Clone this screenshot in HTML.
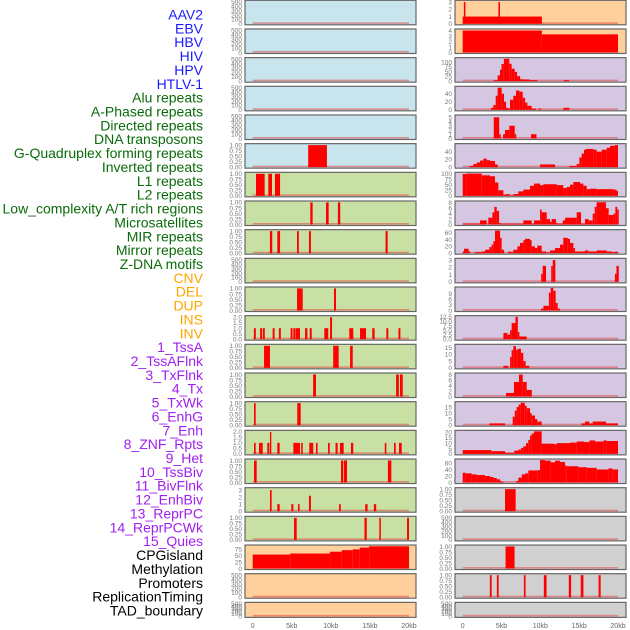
<!DOCTYPE html>
<html><head><meta charset="utf-8"><style>
html,body{margin:0;padding:0;background:#fff}
svg{display:block}
text{font-family:"Liberation Sans",sans-serif}
</style></head><body>
<svg id="chart" width="630" height="630" viewBox="0 0 630 630" xmlns="http://www.w3.org/2000/svg"></svg>
<script>
// ---- data ----
const trackLabels = ["AAV2","EBV","HBV","HIV","HPV","HTLV-1","Alu repeats","A-Phased repeats","Directed repeats","DNA transposons","G-Quadruplex forming repeats","Inverted repeats","L1 repeats","L2 repeats","Low_complexity A/T rich regions","Microsatellites","MIR repeats","Mirror repeats","Z-DNA motifs","CNV","DEL","DUP","INS","INV","1_TssA","2_TssAFlnk","3_TxFlnk","4_Tx","5_TxWk","6_EnhG","7_Enh","8_ZNF_Rpts","9_Het","10_TssBiv","11_BivFlnk","12_EnhBiv","13_ReprPC","14_ReprPCWk","15_Quies","CPGisland","Methylation","Promoters","ReplicationTiming","TAD_boundary"];
const labelGroups = ["virus","virus","virus","virus","virus","virus","rep","rep","rep","rep","rep","rep","rep","rep","rep","rep","rep","rep","rep","sv","sv","sv","sv","sv","cs","cs","cs","cs","cs","cs","cs","cs","cs","cs","cs","cs","cs","cs","cs","other","other","other","other","other"];
const xTickKb = [0,5,10,15,20];
const xTickLabels = ["0","5kb","10kb","15kb","20kb"];
const ticks500 = ["0","100","200","300","400","500"];
const ticks1 = ["0.00","0.25","0.50","0.75","1.00"];
const ticks2 = ["0.0","0.5","1.0","1.5","2.0"];
const ticks3 = ["0","1","2","3"];

// left column segments [startKb, endKb, value]
const L6 = [[7.1,9.5,1]];
const L7 = [[0.42,1.53,1],[2.0,2.47,1],[2.85,3.5,1]];
const L8 = [[7.37,7.67,1],[9.38,9.72,1],[10.9,11.2,1]];
const L9 = [[2.2,2.5,1],[3.15,3.5,1],[5.67,5.9,1],[7.2,7.45,1],[17.0,17.27,1]];
const L11 = [[5.67,6.4,1],[10.4,10.66,1]];
const L12 = [[0.15,0.4,1],[0.95,1.2,1],[1.3,1.55,1],[2.55,2.8,1],[3.35,3.6,1],[4.85,5.1,1],[5.2,5.45,1],[5.5,6.05,1],[6.7,7.0,1],[7.3,7.55,1],[9.16,9.67,1],[9.9,10.15,2],[12.36,12.87,1],[13.73,14.5,1],[15.3,15.6,1],[17.1,17.35,1],[18.65,18.9,1]];
const L13 = [[1.45,2.21,1],[10.3,11.0,1],[12.46,12.8,1]];
const L14 = [[7.73,8.1,1],[18.35,18.7,1],[18.85,19.2,1]];
const L15 = [[0.17,0.38,1],[5.7,6.14,1]];
const L16 = [[0.17,0.38,1],[0.81,1.28,1],[1.87,2.13,1],[2.21,2.38,2],[3.15,3.45,1],[5.2,6.05,1],[6.2,6.4,1],[7.24,7.75,1],[8.1,8.3,1],[9.64,9.86,1],[10.6,10.87,1],[11.16,11.64,1],[12.57,12.87,1],[16.9,17.1,1],[18.08,18.3,1],[18.72,19.07,1]];
const L17 = [[0.17,0.51,1],[11.3,11.59,1],[11.68,12.07,1],[17.3,17.74,1]];
const L18 = [[2.21,2.42,3],[3.15,3.45,1],[4.94,5.2,1],[5.8,6.0,1],[7.2,7.45,2.2],[11.05,11.27,1],[14.4,14.7,1],[15.5,15.8,1]];
const L19 = [[5.29,5.63,1],[14.3,14.6,1],[16.2,16.4,1],[19.75,20.0,1]];
const L20 = [[0,4.8,54],[4.8,9.9,58],[9.9,11.4,65],[11.4,12.8,71],[12.8,13.7,74],[13.7,14.9,81],[14.9,20,86]];

// right column segments
const R1 = [[0,10.2,1],[0.15,0.35,3],[4.6,4.8,3]];
const R2 = [[0,10.2,4],[10.2,20,3.3]];
const R3 = [[4.0,4.5,5],[4.5,4.8,30],[4.8,5.0,60],[5.0,5.3,90],[5.3,6.0,117],[6.0,6.3,91],[6.3,6.7,65],[6.7,7.0,48],[7.0,7.4,26],[7.4,7.8,10],[7.8,8.6,9],[8.6,9.6,5],[13.0,13.7,5]];
const R4 = [[3.65,3.95,5],[3.95,4.25,12],[4.25,4.5,35],[4.5,5.02,55],[5.02,5.32,40],[5.32,5.58,20],[5.58,5.88,5],[5.88,6.09,3],[6.09,6.52,25],[6.52,6.87,35],[6.87,7.3,48],[7.3,7.73,45],[7.73,8.03,30],[8.03,8.33,18],[8.33,8.88,10],[8.88,9.44,3],[9.75,10.1,3],[12.96,13.73,5]];
const R5 = [[4.0,4.7,5],[4.7,4.9,1],[5.2,5.45,1],[5.45,6.0,2],[6.0,6.7,3],[6.7,6.9,1],[8.8,9.5,1]];
const R6 = [[0.86,1.37,3],[1.37,1.8,8],[1.8,2.23,12],[2.23,2.66,17],[2.66,3.09,22],[3.09,3.52,18],[3.52,4.16,16],[4.16,4.5,7],[9.96,11.89,7],[13.73,14.68,3],[14.68,15.02,8],[15.02,15.32,25],[15.32,15.62,35],[15.62,15.88,45],[15.88,16.82,47],[16.82,17.25,45],[17.25,17.9,40],[17.9,18.54,45],[18.54,18.97,50],[18.97,19.61,55],[19.61,20,57]];
const R7 = [[0,0.52,98],[0.52,2.45,100],[2.45,3.52,92],[3.52,4.16,88],[4.16,4.59,60],[4.59,5.24,25],[5.24,5.58,5],[5.58,6.01,8],[6.01,6.52,2],[6.52,7.17,8],[7.17,7.81,20],[7.81,8.67,28],[8.67,9.18,45],[9.18,9.96,55],[9.96,10.39,48],[10.39,12.1,52],[12.1,12.96,48],[12.96,13.39,35],[13.39,13.82,40],[13.82,14.25,50],[14.25,15.11,62],[15.11,15.54,55],[15.54,15.97,45],[15.97,16.39,30],[16.39,17.25,32],[17.25,19.4,30],[19.4,19.8,28],[19.8,20,22]];
const R8 = [[0,2.23,0.3],[2.23,3.09,1.5],[3.3,3.82,2.5],[3.82,4.08,4.5],[4.08,4.38,6.5],[4.38,4.68,5],[4.68,4.94,0.5],[4.94,7.81,0.3],[7.81,8.88,1.5],[8.88,9.18,0.3],[9.18,9.96,1.5],[9.96,10.17,5.5],[10.17,10.82,4.5],[10.82,11.24,2],[11.24,11.46,1],[11.46,12.02,2],[12.02,12.23,0.5],[12.23,12.88,0.3],[12.88,13.18,1.5],[13.18,14.68,2.5],[14.68,15.24,4.5],[15.24,15.75,0.3],[15.75,16.22,2],[16.22,16.74,1.5],[16.74,17.0,4],[17.0,17.25,6.5],[17.25,18.45,8.2],[18.45,18.8,6],[18.8,19.4,3.5],[19.4,19.66,4],[19.66,19.9,6.5],[19.9,20.1,5.5]];
const R9 = [[0,0.17,5],[0.17,0.77,13],[0.77,0.94,5],[1.59,2.45,3],[2.45,2.88,5],[2.88,3.43,10],[3.43,3.73,18],[3.73,3.95,25],[3.95,4.16,35],[4.16,4.81,66],[4.81,5.02,45],[5.02,5.32,10],[5.88,6.18,5],[6.18,6.52,3],[6.52,7.04,10],[7.04,7.38,20],[7.38,7.81,30],[7.81,8.03,38],[8.03,8.67,42],[8.67,8.88,38],[8.88,9.31,20],[9.31,9.61,15],[9.61,10.17,22],[10.17,10.73,5],[10.73,11.24,2],[11.24,11.89,8],[11.89,12.53,15],[12.53,12.96,25],[12.96,13.52,45],[13.52,13.82,42],[13.82,14.25,30],[14.25,14.46,15],[14.46,15.75,5],[15.75,16.18,8],[16.18,17.25,5],[17.25,18.54,8],[18.54,19.18,5],[19.18,19.61,3],[19.61,20.04,4]];
const R10 = [[10.1,10.3,1.1],[10.3,10.73,2.2],[11.4,11.6,2.2],[11.6,11.93,3],[19.6,19.8,1.1],[19.8,20.1,2.2]];
const R11 = [[10.08,10.4,1],[10.4,11.1,2.5],[11.1,11.33,9.5],[11.33,11.67,12],[11.67,11.97,10.5],[11.97,12.23,4],[12.23,12.53,1]];
const R12 = [[5.24,5.75,3.5],[5.75,6.1,2.5],[6.1,6.3,5],[6.3,6.8,9],[6.8,7.1,12.5],[7.1,7.3,4],[7.3,8.24,1.5]];
const R13 = [[5.24,5.88,1.5],[6.1,6.3,8],[6.3,6.52,13],[6.52,6.87,16],[6.87,7.04,13],[7.04,7.5,14],[7.5,7.8,11],[7.8,8.1,5],[8.1,8.58,1.5]];
const R14 = [[5.58,6.6,1.3],[6.6,7.25,5.3],[7.25,7.73,8],[7.73,8.24,5.3],[8.24,8.9,2.4]];
const R15 = [[3.43,5.45,1.5],[6.44,6.7,7],[6.7,6.95,12],[6.95,7.2,15],[7.2,7.47,17],[7.47,8.0,18.5],[8.0,8.24,16],[8.24,8.67,14],[8.67,8.88,10],[8.88,9.31,8],[9.31,9.61,5],[9.61,10.17,3],[15.3,15.75,1.5],[15.75,16.3,3],[16.3,16.74,1.5],[16.74,18.45,3],[18.45,20,1.5]];
const R16 = [[0,3.7,3.5],[3.7,5.45,2.5],[5.45,6.65,1],[6.65,7.17,3],[7.17,7.52,4],[7.52,7.81,5.5],[7.81,8.15,7],[8.15,8.45,10],[8.45,8.67,13],[8.67,8.88,17],[8.88,9.18,19],[9.18,10.17,21],[10.17,11.76,9.5],[11.76,12.1,9],[12.1,13.82,10],[13.82,14.68,10.5],[14.68,15.62,11.5],[15.62,16.31,11],[16.31,17.04,12.5],[17.04,18.11,11.5],[18.11,18.54,12.5],[18.54,20,12]];
const R17 = [[0,0.39,30],[0.39,1.16,28],[1.16,1.8,25],[1.8,2.88,23],[2.88,3.52,20],[3.52,3.95,17],[3.95,4.38,14],[4.38,4.81,10],[4.81,5.02,5],[5.02,5.32,2],[6.87,7.17,5],[7.17,7.6,15],[7.6,8.03,25],[8.03,8.45,28],[8.45,9.61,37],[9.61,9.96,38],[9.96,10.6,69],[10.6,11.33,67],[11.33,11.89,62],[11.89,12.53,67],[12.53,13.18,63],[13.18,13.39,52],[13.39,14.89,50],[14.89,15.97,47],[15.97,17.25,45],[17.25,18.76,40],[18.76,19.31,43],[19.31,20,40]];
const R18 = [[5.45,6.82,1]];
const R20 = [[5.52,6.68,1]];
const R21 = [[3.5,3.73,1],[4.4,4.63,1],[7.88,8.1,1],[10.45,10.8,1],[13.66,13.96,1],[15.2,15.55,1],[17.5,17.77,1]];

// ---- layout/config ----
const BG = {blue:"#c8e4ec", green:"#c8e0a4", lav:"#d5c6e2", peach:"#ffd09c", gray:"#d0d0d0"};
const labelColor = {virus:"#1a1aff", rep:"#0a6b0a", sv:"#ffa500", cs:"#a020f0", other:"#000"};
const leftRows = [
 ["blue",510,ticks500,[]],["blue",510,ticks500,[]],["blue",510,ticks500,[]],["blue",510,ticks500,[]],["blue",510,ticks500,[]],
 ["blue",1.02,ticks1,L6],["green",1.02,ticks1,L7],["green",1.02,ticks1,L8],["green",1.02,ticks1,L9],["green",510,ticks500,[]],
 ["green",1.02,ticks1,L11],["green",2.05,ticks2,L12],["green",1.02,ticks1,L13],["green",1.02,ticks1,L14],["green",1.02,ticks1,L15],
 ["green",2.05,ticks2,L16],["green",1.02,ticks1,L17],["green",3.2,ticks3,L18],["green",1.02,ticks1,L19],
 ["peach",87,["0","25","50","75"],L20],["peach",510,ticks500,[]],["peach",510,ticks500,[]]
];
const rightRows = [
 ["peach",3.1,ticks3,R1],["peach",4.1,["0","1","2","3","4"],R2],
 ["lav",118,["0","25","50","75","100"],R3],["lav",56,["0","20","40"],R4],["lav",5.3,["0","1","2","3","4","5"],R5],
 ["lav",58,["0","20","40"],R6],["lav",101,["0","25","50","75","100"],R7],["lav",8.3,["0","2","4","6","8"],R8],
 ["lav",66,["0","20","40","60"],R9],["lav",3.1,ticks3,R10],["lav",12,["0","3","6","9"],R11],
 ["lav",12.6,["0.0","2.5","5.0","7.5","10.0","12.5"],R12],["lav",16.6,["0","5","10","15"],R13],["lav",8.2,["0","2","4","6","8"],R14],
 ["lav",18.6,["0","5","10","15"],R15],["lav",21,["0","5","10","15","20"],R16],["lav",69,["0","20","40","60"],R17],
 ["gray",1.02,ticks1,R18],["gray",510,ticks500,[]],["gray",1.02,ticks1,R20],["gray",1.02,ticks1,R21],["gray",510,ticks500,[]]
];
const NS="http://www.w3.org/2000/svg";
const svg=document.getElementById("chart");
function mk(tag,attrs,parent){const e=document.createElementNS(NS,tag);for(const k in attrs)e.setAttribute(k,attrs[k]);(parent||svg).appendChild(e);return e;}

// labels
trackLabels.forEach((t,i)=>{
  const e=mk("text",{x:203,y:(19.5+i*13.86).toFixed(2),"text-anchor":"end","font-size":"14",fill:labelColor[labelGroups[i]]});
  
  
  e.textContent=t;
});

const cols=[{px:245,pw:171,x0:252.7,x20:409,rows:leftRows,tx:242,name:"left"},{px:455,pw:171,x0:462.7,x20:618,rows:rightRows,tx:452,name:"right"}];
cols.forEach(col=>{
  const xs=kb=>col.x0+kb*(col.x20-col.x0)/20;
  col.rows.forEach((r,i)=>{
    const [bg,ymax,ticks,segs]=r;
    const T=0.3+i*28.67;
    const H=(i===21)?15:24.5;
    const ys=v=>T+H-1-v/ymax*(H-2);
    const g=mk("g",{});
    
    
    const bgr=mk("rect",{x:col.px,y:T,width:col.pw,height:H,fill:BG[bg]},g);
    
    
    const base=mk("rect",{x:xs(0),y:ys(0)-1.5,width:xs(20)-xs(0),height:1.6,fill:"rgba(230,60,60,0.5)"},g);
    
    
    segs.forEach(s=>{
      const x1=xs(Math.max(0,s[0])), x2=xs(Math.min(20.1,s[1]));
      const v=Math.min(s[2],ymax);
      const b=mk("rect",{x:x1,y:ys(v),width:Math.max(1.2,x2-x1),height:ys(0)-ys(v),fill:"#ff0000"},g);
      
      
    });
    mk("rect",{x:col.px,y:T,width:col.pw,height:H,fill:"none",stroke:"#666","stroke-width":1.2},g);
    ticks.forEach(t=>{
      const tt=mk("text",{x:col.tx,y:(ys(parseFloat(t))+2.3).toFixed(2),"text-anchor":"end","font-size":"6.5",fill:"#777"},g);
      
      
      tt.textContent=t;
    });
  });
  xTickKb.forEach((k,j)=>{
    const t=mk("text",{x:xs(k),y:628,"text-anchor":"middle","font-size":"7",fill:"#666"});
    
    
    t.textContent=xTickLabels[j];
  });
});
</script>
</body></html>
